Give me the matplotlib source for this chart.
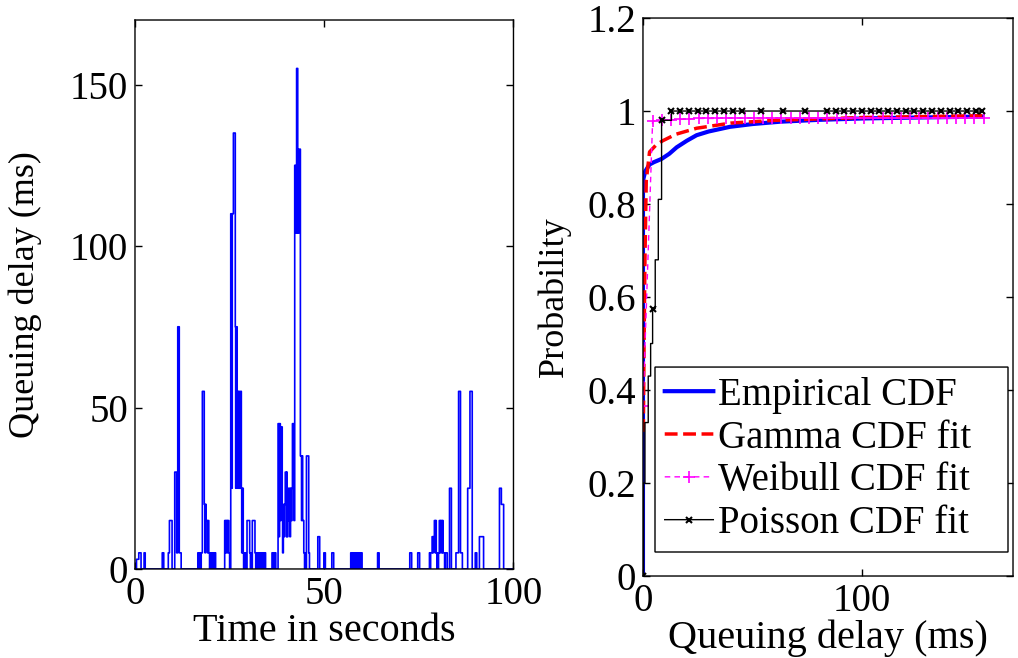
import numpy as np
import matplotlib.pyplot as plt

plt.rcParams['font.family'] = ['Liberation Serif', 'DejaVu Serif']
plt.rcParams['path.simplify'] = False
plt.rcParams['path.snap'] = False

# ---- left: queuing delay trace (change points, value holds until next time) ----
trace_t = [
    0, 0.4, 1.0, 1.6, 2.4, 2.7, 7.2, 7.6, 8.8, 9.1, 9.8, 10.5, 11.0, 11.3, 11.7, 12.2,
    16.6, 16.8, 16.9, 17.1, 17.2, 17.4, 17.5, 17.8, 18.3, 18.5, 18.6, 18.8, 19.1, 19.2,
    19.5, 19.7, 19.8, 20.0, 20.1, 20.3, 20.4, 20.6, 20.7, 20.9, 21.0, 21.3,
    23.7, 24.0, 24.1, 24.4, 24.5, 24.8, 25.0, 25.3, 25.6, 25.7, 26.0, 26.5, 26.6, 26.8,
    27.0, 27.1, 27.3, 27.5, 27.6, 27.9, 28.1, 28.2, 28.4, 28.6, 28.7, 28.9, 29.0, 29.2,
    29.3, 29.6, 30.3, 30.5, 30.6, 30.8, 31.0, 31.7, 31.9, 32.0, 32.2, 32.3, 32.5, 32.6,
    32.8, 32.9, 33.1, 33.2, 33.4, 33.5, 33.7, 33.8, 34.0, 34.1, 34.5,
    36.2, 36.5, 36.8, 37.2, 37.8, 38.1, 38.2, 38.4, 38.5, 38.9, 39.0, 39.2, 39.3, 39.5,
    39.7, 40.0, 40.1, 40.2, 40.4, 40.5, 40.8, 40.9, 41.1, 41.2, 41.5, 41.6, 42.0, 42.2,
    42.5, 42.7, 43.0, 43.3, 43.7, 44.0, 44.1, 44.3, 44.6, 44.8, 44.9, 45.1, 45.3, 45.9,
    46.1, 46.4,
    48.3, 48.8, 49.9, 50.3, 52.0, 52.5, 57.0, 57.2, 57.3, 57.5, 57.6, 57.8, 57.9, 58.1,
    58.2, 58.4, 58.5, 58.7, 58.8, 59.0, 59.1, 59.3, 59.4, 59.6, 59.7, 60.0, 64.1, 64.5,
    72.6, 73.1, 74.7, 75.2, 77.8, 78.0, 78.1, 78.5, 78.7, 78.8, 79.1, 79.3, 79.4, 79.6,
    79.8, 79.9, 80.1, 80.2, 80.4, 80.7, 80.8, 81.1, 81.2, 81.4, 81.8, 82.0, 82.5, 83.1,
    83.6, 84.8, 85.5, 86.0, 86.5, 87.9, 88.5, 89.1, 89.9, 90.3, 91.0, 92.1, 96.3, 96.8,
    97.4, 100,
]
trace_ms = [
    0, 3, 5, 0, 5, 0, 5, 0, 5, 15, 0, 30, 5, 75, 5, 0,
    5, 0, 5, 0, 5, 0, 5, 55, 20, 5, 20, 15, 5, 15,
    5, 0, 5, 0, 5, 0, 5, 0, 5, 0, 5, 0,
    15, 5, 15, 5, 15, 5, 0, 110, 25, 110, 135, 75, 25, 75,
    25, 55, 25, 55, 25, 55, 25, 5, 25, 5, 0, 5, 0, 5,
    0, 15, 5, 0, 5, 0, 15, 5, 0, 5, 0, 5, 0, 5,
    0, 5, 0, 5, 0, 5, 0, 5, 0, 5, 0,
    5, 0, 5, 0, 45, 10, 45, 15, 44, 15, 5, 20, 10, 20,
    30, 10, 30, 10, 25, 15, 25, 10, 25, 15, 25, 45, 15, 125,
    104, 155, 104, 130, 35, 15, 35, 15, 5, 0, 5, 0, 35, 5,
    0, 0,
    10, 0, 5, 0, 5, 0, 5, 0, 5, 0, 5, 0, 5, 0,
    5, 0, 5, 0, 5, 0, 5, 0, 5, 0, 5, 0, 5, 0,
    5, 0, 5, 0, 5, 0, 5, 10, 5, 10, 15, 5, 15, 5,
    0, 5, 0, 5, 15, 5, 15, 5, 15, 5, 0, 5, 0, 25,
    0, 5, 55, 5, 0, 25, 55, 0, 5, 0, 10, 0, 25, 20,
    0, 0,
]

# ---- right: CDFs of queuing delay ----
emp_x = [0, 0, 1, 3, 5, 8.5, 12, 15.4, 20, 24.5, 30, 39.7, 50, 62.5, 80, 100, 125, 155]
emp_y = [0, 0.85, 0.87, 0.885, 0.89, 0.897, 0.908, 0.922, 0.936, 0.948, 0.956, 0.966,
         0.972, 0.977, 0.981, 0.984, 0.986, 0.988]

gam_x = [0.15, 0.5, 0.9, 1.5, 3, 6, 9, 15, 24.5, 40, 60, 100, 155]
gam_y = [0.31, 0.5, 0.68, 0.85, 0.912, 0.927, 0.936, 0.95, 0.963, 0.974, 0.98, 0.986, 0.99]

wbl_x = [0, 4.4, 8.6, 12.8, 17, 21.2, 25.4, 29.6, 33.8, 38, 42.2, 46.4, 50.6, 54.8, 59,
         63.2, 67.4, 71.6, 75.8, 80, 84.2, 88.4, 92.6, 96.8, 101, 105.2, 109.4, 113.6,
         117.8, 122, 126.2, 130.4, 134.6, 138.8, 143, 147.2, 151.4, 155.6]
wbl_y = [0.366, 0.978, 0.98, 0.981, 0.982, 0.983, 0.984, 0.984, 0.984, 0.985, 0.985,
         0.985, 0.985, 0.985, 0.985, 0.985, 0.985, 0.985, 0.985, 0.985, 0.985, 0.985,
         0.985, 0.985, 0.985, 0.985, 0.985, 0.985, 0.985, 0.985, 0.985, 0.985, 0.985,
         0.985, 0.985, 0.985, 0.985, 0.985]

pois_x = [0, 0.3, 0.9, 2.4, 3.5, 4.4, 5.6, 7.0, 8.5, 13, 17, 21, 25, 29, 33, 37, 41, 45,
          54, 64, 74, 84, 88, 92, 96, 100, 104, 108, 112, 116, 120, 124, 128, 132, 136,
          140, 144, 148, 152, 155]
pois_y = [0, 0.2, 0.33, 0.43, 0.5, 0.575, 0.68, 0.81, 0.98, 1, 1, 1, 1, 1, 1, 1, 1, 1,
          1, 1, 1, 1, 1, 1, 1, 1, 1, 1, 1, 1, 1, 1, 1, 1, 1, 1, 1, 1, 1, 1]
pois_marks = [0, 5, 8] + list(range(9, len(pois_x)))

fig = plt.figure(figsize=(10.18, 6.58), dpi=100)
ax1 = fig.add_axes([0.1326, 0.1353, 0.3718, 0.8343])
ax2 = fig.add_axes([0.6316, 0.1246, 0.3635, 0.8480])

ax1.plot(trace_t, trace_ms, color='blue', lw=1.2, drawstyle='steps-post')
ax1.set_xlim(0, 100)
ax1.set_ylim(0, 170)
ax1.set_xticks([0, 50, 100])
ax1.set_yticks([0, 50, 100, 150])
ax1.set_xlabel('Time in seconds', fontsize=29, labelpad=0)
ax1.set_ylabel('Queuing delay (ms)', fontsize=26, labelpad=20)

ax2.plot(emp_x, emp_y, color='blue', lw=3, label='Empirical CDF')
ax2.plot(gam_x, gam_y, color='red', lw=2.5, ls='--', label='Gamma CDF fit')
ax2.plot(wbl_x, wbl_y, color='magenta', lw=1, ls=(0, (4, 3)), marker='+', ms=9,
         mew=1.2, label='Weibull CDF fit')
ax2.plot(pois_x, pois_y, color='black', lw=1, drawstyle='steps-post', marker='x',
         ms=5, mew=1.5, markevery=pois_marks, label='Poisson CDF fit')
ax2.set_xlim(0, 169)
ax2.set_ylim(0, 1.2)
ax2.set_xticks([0, 100])
ax2.set_yticks([0, 0.2, 0.4, 0.6, 0.8, 1.0, 1.2])
ax2.set_yticklabels(['0', '0.2', '0.4', '0.6', '0.8', '1', '1.2'])
ax2.set_xlabel('Queuing delay (ms)', fontsize=29, labelpad=0)
ax2.set_ylabel('Probability', fontsize=26, labelpad=12)

leg = ax2.legend(loc='lower left', fontsize=28, mode='expand',
                 bbox_to_anchor=(655 / 1018, 1 - 552 / 658, 353 / 1018, 0),
                 bbox_transform=fig.transFigure, borderaxespad=0,
                 handlelength=1.25, handletextpad=0.12, labelspacing=0.15,
                 borderpad=0.25, fancybox=False, framealpha=1)
leg.get_frame().set_edgecolor('black')
leg.get_frame().set_linewidth(1.0)

for ax in (ax1, ax2):
    ax.tick_params(direction='in', top=True, right=True, length=5, width=1,
                   labelsize=28, pad=5)
    for s in ax.spines.values():
        s.set_linewidth(1.0)

fig.savefig('out.png', dpi=100)
